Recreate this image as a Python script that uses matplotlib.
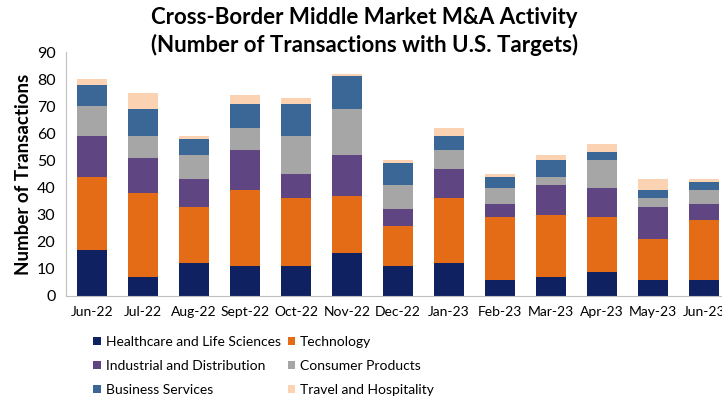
import matplotlib
matplotlib.use("Agg")
import matplotlib.pyplot as plt
import numpy as np

months = ["Jun-22", "Jul-22", "Aug-22", "Sept-22", "Oct-22", "Nov-22", "Dec-22",
          "Jan-23", "Feb-23", "Mar-23", "Apr-23", "May-23", "Jun-23"]

healthcare  = [17, 7, 12, 11, 11, 16, 11, 12, 6, 7, 9, 6, 6]
technology  = [27, 31, 21, 28, 25, 21, 15, 24, 23, 23, 20, 15, 22]
industrial  = [15, 13, 10, 15, 9, 15, 6, 11, 5, 11, 11, 12, 6]
consumer    = [11, 8, 9, 8, 14, 17, 9, 7, 6, 3, 10, 3, 5]
business    = [8, 10, 6, 9, 12, 12, 8, 5, 4, 6, 3, 3, 3]
travel      = [2, 6, 1, 3, 2, 1, 1, 3, 1, 2, 3, 4, 1]

series = [healthcare, technology, industrial, consumer, business, travel]
labels = ["Healthcare and Life Sciences", "Technology", "Industrial and Distribution",
          "Consumer Products", "Business Services", "Travel and Hospitality"]
colors = ["#0F2160", "#E46C17", "#5F4682", "#A6A6A6", "#3A6796", "#FBD3B3"]

plt.rcParams["font.family"] = ["Lato", "DejaVu Sans"]

fig = plt.figure(figsize=(7.22, 3.98), dpi=100)
ax = fig.add_axes([0.0921, 0.2563, 0.918, 0.613])

x = np.arange(len(months))
bottom = np.zeros(len(months))
handles = []
for vals, lbl, col in zip(series, labels, colors):
    h = ax.bar(x, vals, 0.59, bottom=bottom, color=col, label=lbl)
    handles.append(h)
    bottom += np.array(vals)

ax.set_xlim(-0.5, len(months) - 0.5)
ax.set_ylim(0, 90)
ax.set_yticks(range(0, 91, 10))
ax.set_xticks(x)
ax.set_xticklabels(months, fontsize=10)
ax.tick_params(axis="y", labelsize=11.5, length=0, pad=8)
ax.tick_params(axis="x", length=0, pad=7)
ax.spines[["top", "right"]].set_visible(False)
ax.spines["left"].set_color("#BFBFBF")
ax.spines["bottom"].set_color("#BFBFBF")
ax.set_ylabel("Number of Transactions", fontsize=13.5, fontweight="bold", labelpad=3)

fig.text(0.505, 0.955, "Cross-Border Middle Market M&A Activity", ha="center",
         va="center", fontsize=16, fontweight="bold")
fig.text(0.505, 0.887, "(Number of Transactions with U.S. Targets)", ha="center",
         va="center", fontsize=16, fontweight="bold")

# legend fills row by row in the reference: reorder for matplotlib's column filling
order = [0, 2, 4, 1, 3, 5]
fig.legend([handles[i] for i in order], [labels[i] for i in order], ncol=2,
           loc="upper left", bbox_to_anchor=(0.129, 0.156),
           frameon=False, fontsize=10, handlelength=0.55, handleheight=0.55,
           handletextpad=0.35, columnspacing=0.5, labelspacing=0.87,
           borderaxespad=0, borderpad=0)

fig.savefig("out.png", dpi=100)
